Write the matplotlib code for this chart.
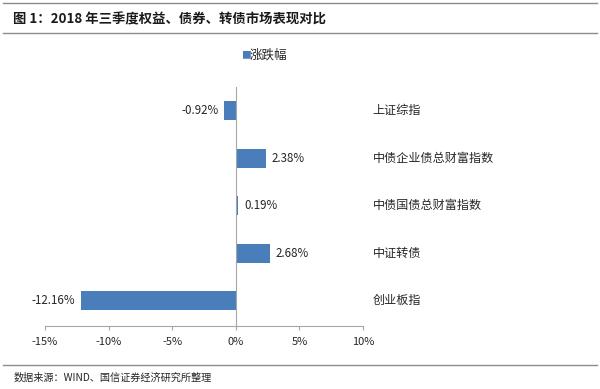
import matplotlib

matplotlib.use("Agg")
import matplotlib.pyplot as plt
import matplotlib.transforms as mtransforms
from matplotlib.lines import Line2D

plt.rcParams["font.family"] = ["Noto Sans CJK SC", "DejaVu Sans"]

# data
categories = ["上证综指", "中债企业债总财富指数", "中债国债总财富指数", "中证转债", "创业板指"]
values = [-0.92, 2.38, 0.19, 2.68, -12.16]
xticks = [-15, -10, -5, 0, 5, 10]
title = "图 1：2018 年三季度权益、债券、转债市场表现对比"
source = "数据来源：WIND、国信证券经济研究所整理"
legend_label = "涨跌幅"

bar_color = "#4A7EBB"
axis_color = "#A6A6A6"
text_color = "#262626"

fig = plt.figure(figsize=(6.0, 3.89), dpi=100)
ax = fig.add_axes([0.075, 0.162, 0.53, 0.614])

ypos = list(range(len(categories)))
ax.barh(ypos, values, height=0.4, color=bar_color, zorder=2)
ax.set_ylim(4.53, -0.5)
ax.set_xlim(-15, 10)
ax.set_xticks(xticks)
ax.set_xticklabels([f"{t}%" for t in xticks], fontsize=8, color=text_color)
ax.set_yticks([])

for s in ("top", "right"):
    ax.spines[s].set_visible(False)
ax.spines["left"].set_position(("data", 0))
ax.spines["left"].set_color(axis_color)
ax.spines["bottom"].set_color(axis_color)
ax.tick_params(axis="x", colors=axis_color, labelcolor=text_color, length=3, pad=5)

for y, v in zip(ypos, values):
    if v < 0:
        ax.text(v - 0.45, y, f"{v:.2f}%", ha="right", va="center", fontsize=8.3, color=text_color)
    else:
        ax.text(v + 0.45, y, f"{v:.2f}%", ha="left", va="center", fontsize=8.3, color=text_color)

trans = mtransforms.blended_transform_factory(ax.transAxes, ax.transData)
for y, c in zip(ypos, categories):
    ax.text(1.031, y, c, transform=trans, ha="left", va="center", fontsize=8.7, color=text_color)

# legend
fig.text(0.401, 1 - 55 / 389, "■", ha="left", va="center", fontsize=7, color=bar_color)
fig.text(0.416, 1 - 55 / 389, legend_label, ha="left", va="center", fontsize=9, color=text_color)

# title, rules and source
fig.text(0.022, 1 - 19 / 389, title, ha="left", va="center", fontsize=9.6, fontweight="bold", color="#1a1a1a")
for yy in (3, 33, 365):
    fig.add_artist(Line2D([0.005, 0.995], [1 - yy / 389] * 2, color="#8c8c8c", lw=1.0))
fig.text(0.022, 1 - 378 / 389, source, ha="left", va="center", fontsize=7.3, color=text_color)

fig.savefig("out.png", dpi=100)
